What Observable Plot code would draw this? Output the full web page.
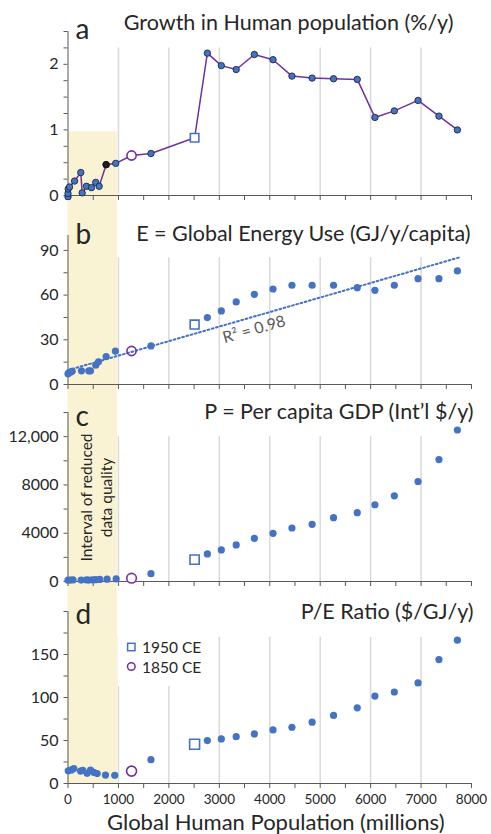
<!DOCTYPE html>
<html>
<head>
<meta charset="utf-8">
<script src="https://cdn.jsdelivr.net/npm/d3@7"></script>
<script src="https://cdn.jsdelivr.net/npm/@observablehq/plot@0.6"></script>
<style>
  html, body { margin: 0; padding: 0; background: #fff; }
  #wrap { position: relative; width: 491px; }
  #wrap > svg { display: block; }
  #legend { position: absolute; left: 118px; top: 636px; }
</style>
</head>
<body>
<div id="wrap"></div>
<script>
// ---------------- DATA ----------------
const xTicks = [0, 500, 1000, 1500, 2000, 2500, 3000, 3500, 4000, 4500, 5000, 5500, 6000, 6500, 7000, 7500, 8000];
const xTickLabels = [0, 1000, 2000, 3000, 4000, 5000, 6000, 7000, 8000];
const gridPop = [1000, 2000, 3000, 4000, 5000, 6000, 7000];
const bandPop = [0, 980];

// population (millions) of the later points, shared by all panels
const popModern = [1645, 2763, 3040, 3335, 3695, 4065, 4440, 4840, 5265, 5735, 6085, 6470, 6940, 7355, 7720];

// highlighted years
const markerLabels = ["1850 CE", "1950 CE"];
const markerPop = [1260, 2510];

// a: growth in human population (%/y)
const growthEarlyPop = [0, 0, 4, 30, 130, 253, 281, 366, 465, 550, 618, 756, 946];
const growthEarly = [-0.02, 0.03, 0.10, 0.13, 0.22, 0.35, 0.04, 0.14, 0.12, 0.20, 0.14, 0.47, 0.49];
const growthModern = [0.64, 2.17, 1.98, 1.92, 2.15, 2.07, 1.82, 1.79, 1.78, 1.77, 1.19, 1.29, 1.45, 1.21, 1.00];
const growthMarkers = [0.61, 0.88];
const growthDarkPop = [756];
const growthDark = [0.47];
const growthTicks = [0, 0.25, 0.5, 0.75, 1, 1.25, 1.5, 1.75, 2, 2.25, 2.5];
const growthTickLabels = [0, 1, 2];

// b: global energy use (GJ/y/capita)
const energyEarlyPop = [0, 16, 50, 83, 267, 412, 446, 550, 604, 756, 940];
const energyEarly = [7.2, 7.9, 8.3, 8.9, 9.2, 9.2, 9.2, 13.0, 15.2, 18.8, 22.4];
const energyModern = [25.9, 44.9, 49.4, 55.4, 60.5, 64.1, 66.6, 66.6, 66.6, 65.0, 63.2, 66.6, 71.0, 71.0, 76.2];
const energyMarkers = [22.5, 40.2];
const trendPop = [0, 7780];
const trendEnergy = [9.6, 85.5];
const trendLabel = ["R\u00B2 = 0.98"];
const energyTicks = [0, 15, 30, 45, 60, 75, 90];
const energyTickLabels = [0, 30, 60, 90];

// c: per capita GDP (Int'l $/y)
const gdpEarlyPop = [0, 50, 100, 260, 365, 410, 480, 545, 630, 775, 955];
const gdpEarly = [110, 120, 130, 120, 130, 120, 130, 150, 170, 190, 210];
const gdpModern = [650, 2285, 2615, 3028, 3578, 3991, 4432, 4734, 5285, 5698, 6358, 7101, 8285, 10102, 12552];
const gdpMarkers = [275, 1817];
const gdpTicks = [0, 2000, 4000, 6000, 8000, 10000, 12000, 14000];
const gdpTickLabels = [0, 4000, 8000, 12000];

// d: P/E ratio ($/GJ/y)
const ratioEarlyPop = [4, 69, 115, 248, 293, 380, 446, 511, 578, 743, 927];
const ratioEarly = [14.8, 15.8, 17.3, 14.5, 15.3, 11.8, 15.5, 13.0, 11.5, 9.8, 9.6];
const ratioModern = [27.7, 49.9, 51.8, 54.5, 57.7, 62.3, 65.4, 71.3, 79.1, 88.0, 101.7, 106.4, 116.9, 144.1, 166.7];
const ratioMarkers = [14.4, 45.6];
const ratioTicks = [0, 25, 50, 75, 100, 125, 150, 175, 200];
const ratioTickLabels = [0, 50, 100, 150];

// ---------------- STYLE ----------------
const FONT = "Lato, 'Open Sans', 'DejaVu Sans', sans-serif";
const INK = "#262626";
const AXIS = "#595959";
const BLUE = "#4472C4";
const PURPLE = "#7030A0";
const BAND = "#FAF3D3";
const GRID = "#D9D9D9";

const rows = (pop, vals) => pop.map((p, i) => ({pop: p, v: vals[i]}));
const markers = vals => markerPop.map((p, i) => ({pop: p, v: vals[i], label: markerLabels[i]}));

function panel(cfg) {
  const {height, marginTop, marginBottom, yMax, yTicks, yTickLabels, yFormat = d => String(d),
         gridTop, bandLow, bandHigh, title, titleDx, titleDy, letter, letterDy, showX, marks} = cfg;
  // value of y at a given pixel row of this svg (used to run the band to the svg edges)
  const yAt = p => yMax * (height - marginBottom - p) / (height - marginBottom - marginTop);
  const lo = bandLow === "edge" ? yAt(height) : bandLow;
  const hi = bandHigh === "edge" ? yAt(0) : bandHigh;
  return Plot.plot({
    width: 491, height, marginLeft: 67.5, marginRight: 20, marginTop, marginBottom,
    x: {domain: [0, 8000]},
    y: {domain: [0, yMax]},
    style: {fontFamily: FONT, color: INK, background: "transparent", overflow: "visible"},
    marks: [
      Plot.rect([{x1: bandPop[0], x2: bandPop[1], y1: lo, y2: hi}],
        {x1: "x1", x2: "x2", y1: "y1", y2: "y2", fill: BAND}),
      Plot.ruleX(gridPop, {y1: 0, y2: gridTop, stroke: GRID, strokeWidth: 1.5}),
      Plot.axisX({ticks: xTicks, tickSize: 5, tickPadding: 6, stroke: AXIS, label: null, fontSize: 13.5,
        tickFormat: d => (showX && xTickLabels.includes(d)) ? String(d) : ""}),
      Plot.ruleY([0], {stroke: AXIS}),
      Plot.axisY({ticks: yTicks, tickSize: 4, tickPadding: 5.5, stroke: AXIS, label: null, fontSize: 16,
        tickFormat: d => yTickLabels.includes(d) ? yFormat(d) : ""}),
      Plot.ruleX([0], {y1: 0, y2: yMax, stroke: AXIS}),
      ...marks,
      Plot.text([title], {frameAnchor: "top-right", textAnchor: "end", lineAnchor: "bottom",
        dx: titleDx, dy: titleDy, fontSize: 21.5, fill: INK}),
      Plot.text([letter], {frameAnchor: "top-left", textAnchor: "start", lineAnchor: "bottom",
        dx: 7.5, dy: letterDy, fontSize: 28, fill: INK})
    ]
  });
}

const wrap = document.getElementById("wrap");

// ---- panel a ----
const growthPts = rows(growthEarlyPop, growthEarly).concat(rows(popModern, growthModern));
const growthMk = markers(growthMarkers);
const growthLine = growthPts.concat(growthMk).map((d, i) => ({...d, i}))
  .sort((a, b) => a.pop - b.pop || a.i - b.i);
wrap.appendChild(panel({
  height: 200, marginTop: 31, marginBottom: 5, yMax: 2.5,
  yTicks: growthTicks, yTickLabels: growthTickLabels,
  gridTop: 2.25, bandLow: "edge", bandHigh: 0.97,
  title: "Growth in Human population (%/y)", titleDx: -18, titleDy: -2,
  letter: "a", letterDy: 7, showX: false,
  marks: [
    Plot.line(growthLine, {x: "pop", y: "v", stroke: PURPLE, strokeWidth: 1.5}),
    Plot.dot(growthPts, {x: "pop", y: "v", r: 3.2, fill: BLUE, stroke: "#1C2840", strokeWidth: 0.9}),
    Plot.dot(rows(growthDarkPop, growthDark), {x: "pop", y: "v", r: 3.2, fill: "#1e1e1e", stroke: "#111", strokeWidth: 0.9}),
    Plot.dot([growthMk[0]], {x: "pop", y: "v", symbol: "circle", r: 4.6, fill: "white", stroke: PURPLE, strokeWidth: 1.6}),
    Plot.dot([growthMk[1]], {x: "pop", y: "v", symbol: "square", r: 4.8, fill: "white", stroke: BLUE, strokeWidth: 1.6})
  ]
}));

// ---- panel b ----
const energyPts = rows(energyEarlyPop, energyEarly).concat(rows(popModern, energyModern));
const energyMk = markers(energyMarkers);
const trendRows = rows(trendPop, trendEnergy);
const labelPop = 3690;
const labelE = trendEnergy[0] + (trendEnergy[1] - trendEnergy[0]) * (labelPop - trendPop[0]) / (trendPop[1] - trendPop[0]);
wrap.appendChild(panel({
  height: 190, marginTop: 35, marginBottom: 6, yMax: 100,
  yTicks: energyTicks, yTickLabels: energyTickLabels,
  gridTop: 85, bandLow: "edge", bandHigh: "edge",
  title: "E = Global Energy Use (GJ/y/capita)", titleDx: -1, titleDy: 5,
  letter: "b", letterDy: 8, showX: false,
  marks: [
    Plot.line(trendRows, {x: "pop", y: "v", stroke: BLUE, strokeWidth: 2, strokeDasharray: "1.8 2.6"}),
    Plot.text(trendLabel, {x: () => labelPop, y: () => labelE, rotate: -16, dy: 13, fontSize: 16, fill: "#595959"}),
    Plot.dot(energyPts, {x: "pop", y: "v", r: 3.6, fill: BLUE}),
    Plot.dot([energyMk[0]], {x: "pop", y: "v", symbol: "circle", r: 4.6, fill: "none", stroke: PURPLE, strokeWidth: 1.6}),
    Plot.dot([energyMk[1]], {x: "pop", y: "v", symbol: "square", r: 5, fill: "white", stroke: BLUE, strokeWidth: 1.6})
  ]
}));

// ---- panel c ----
const gdpPts = rows(gdpEarlyPop, gdpEarly).concat(rows(popModern, gdpModern));
const gdpMk = markers(gdpMarkers);
wrap.appendChild(panel({
  height: 200, marginTop: 22, marginBottom: 9, yMax: 14000,
  yTicks: gdpTicks, yTickLabels: gdpTickLabels,
  yFormat: d => d >= 10000 ? d3.format(",")(d) : String(d),
  gridTop: 12000, bandLow: "edge", bandHigh: "edge",
  title: "P = Per capita GDP (Int\u2019l $/y)", titleDx: 2, titleDy: 6,
  letter: "c", letterDy: 13, showX: false,
  marks: [
    Plot.text(["Interval of reduced\ndata quality"], {x: () => 545, y: () => 6960, rotate: -90,
      fontSize: 15.5, lineHeight: 1.3, fill: INK}),
    Plot.dot(gdpPts, {x: "pop", y: "v", r: 3.6, fill: BLUE}),
    Plot.dot([gdpMk[0]], {x: "pop", y: "v", symbol: "circle", r: 4.8, fill: "white", stroke: PURPLE, strokeWidth: 1.6}),
    Plot.dot([gdpMk[1]], {x: "pop", y: "v", symbol: "square", r: 5.2, fill: "white", stroke: BLUE, strokeWidth: 1.6})
  ]
}));

// ---- panel d ----
const ratioPts = rows(ratioEarlyPop, ratioEarly).concat(rows(popModern, ratioModern));
const ratioMk = markers(ratioMarkers);
wrap.appendChild(panel({
  height: 244, marginTop: 21, marginBottom: 51, yMax: 200,
  yTicks: ratioTicks, yTickLabels: ratioTickLabels,
  gridTop: 170, bandLow: 0, bandHigh: "edge",
  title: "P/E Ratio ($/GJ/y)", titleDx: 2, titleDy: 7,
  letter: "d", letterDy: 12, showX: true,
  marks: [
    Plot.dot(ratioPts, {x: "pop", y: "v", r: 3.6, fill: BLUE}),
    Plot.dot([ratioMk[0]], {x: "pop", y: "v", symbol: "circle", r: 5, fill: "white", stroke: PURPLE, strokeWidth: 1.6}),
    Plot.dot([ratioMk[1]], {x: "pop", y: "v", symbol: "square", r: 5.6, fill: "white", stroke: BLUE, strokeWidth: 1.6}),
    Plot.text(["Global Human Population (millions)"], {frameAnchor: "bottom", lineAnchor: "bottom",
      dx: 6, dy: 46, fontSize: 22, fill: INK})
  ]
}));

// ---- legend (panel d) ----
const ns = "http://www.w3.org/2000/svg";
const leg = document.createElementNS(ns, "svg");
leg.setAttribute("id", "legend");
leg.setAttribute("width", 95);
leg.setAttribute("height", 50);
leg.style.fontFamily = FONT;
leg.innerHTML = `
  <rect x="0" y="0" width="95" height="50" fill="white"/>
  <rect x="9.6" y="7.3" width="7.4" height="7.4" fill="white" stroke="${BLUE}" stroke-width="1.5"/>
  <text x="24" y="17" font-size="15.5" fill="${INK}">${markerLabels[1]}</text>
  <circle cx="13.3" cy="30.5" r="3.8" fill="white" stroke="${PURPLE}" stroke-width="1.5"/>
  <text x="24" y="37" font-size="15.5" fill="${INK}">${markerLabels[0]}</text>`;
wrap.appendChild(leg);
</script>
</body>
</html>
